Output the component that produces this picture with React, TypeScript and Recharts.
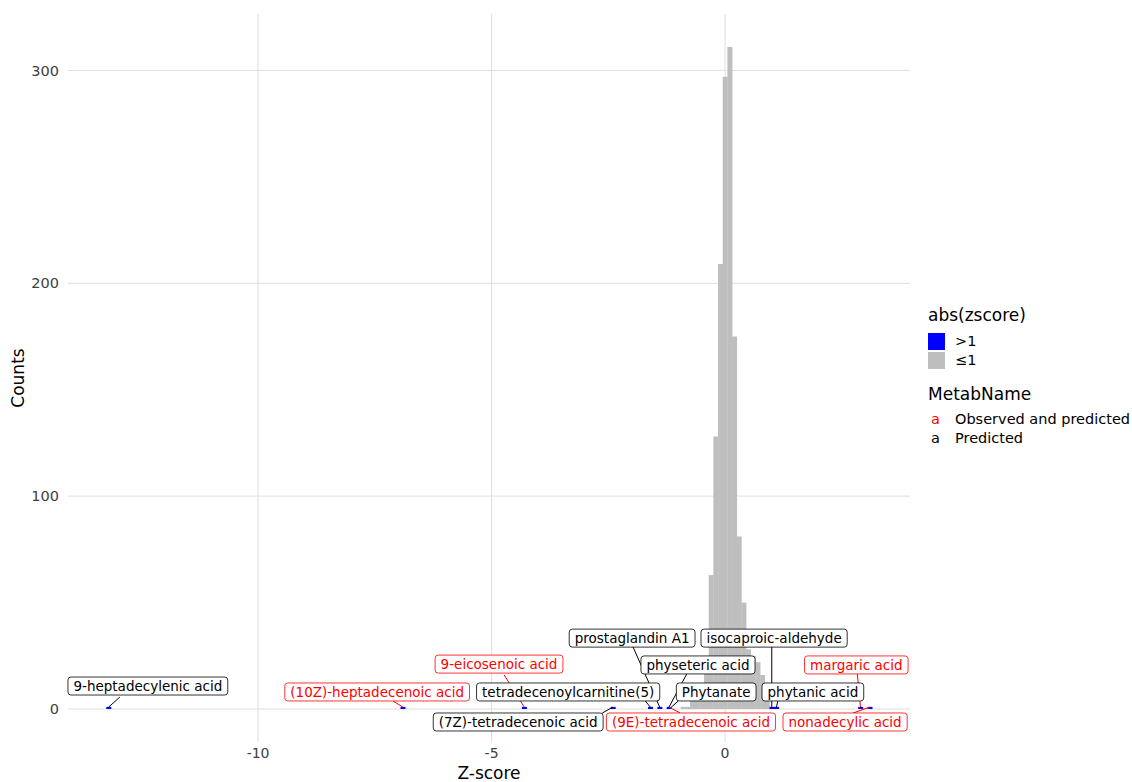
import React from "react";
import {
  BarChart,
  Bar,
  XAxis,
  YAxis,
  CartesianGrid,
  ReferenceLine,
  ReferenceDot,
} from "recharts";

// histogram bins (bin centres on the z-score axis), |z| <= 1
const grayZ = [-0.9, -0.8, -0.7, -0.6, -0.5, -0.4, -0.3, -0.2, -0.1, 0, 0.1, 0.2, 0.3, 0.4, 0.5, 0.6, 0.7, 0.8, 0.9];
const grayCounts = [1, 1, 4, 6, 8, 20, 63, 128, 209, 297, 311, 175, 81, 50, 28, 25, 22, 16, 7];

// bins with |z| > 1
const blueZ = [-13.2, -6.9, -4.3, -2.4, -1.6, -1.4, -1.2, 1.0, 1.1, 2.9, 3.1];
const blueCounts = [1, 1, 1, 1, 1, 1, 1, 1, 1, 1, 1];

// repel labels: name, z of the point, label centre (z, count), segment end (z, count)
const labelNames = [
  "9-heptadecylenic acid",
  "(10Z)-heptadecenoic acid",
  "9-eicosenoic acid",
  "tetradecenoylcarnitine(5)",
  "(7Z)-tetradecenoic acid",
  "prostaglandin A1",
  "physeteric acid",
  "Phytanate",
  "(9E)-tetradecenoic acid",
  "isocaproic-aldehyde",
  "phytanic acid",
  "margaric acid",
  "nonadecylic acid",
];
const labelPointZ = [-13.2, -6.9, -4.3, -1.6, -2.4, -1.4, -1.2, -1.15, -1.2, 1.0, 1.1, 2.9, 3.1];
const labelZ = [-12.36, -7.45, -4.84, -3.36, -4.43, -1.99, -0.58, -0.19, -0.73, 1.05, 1.88, 2.81, 2.57];
const labelCount = [10.8, 8.0, 21.1, 8.0, -6.1, 33.3, 20.7, 8.0, -6.1, 33.3, 8.0, 20.7, -6.1];
const segEndZ = [-12.96, -7.11, -4.73, -1.71, -2.63, -1.97, -0.81, -1.0, -0.96, 1.0, 1.13, 2.83, 2.74];
const segEndCount = [5.6, 3.8, 16, 3.8, -1.9, 29.1, 16.9, 3.8, -1.9, 29.1, 3.8, 16.9, -1.9];
const labelObserved = [false, true, true, false, false, false, false, false, true, false, false, true, true];

const FONT = '"DejaVu Sans", sans-serif';
const RED = "#FF0000";
const LABEL_SIZE = 13.5;

const rows = [...grayZ.map((z, i) => ({ z, gray: grayCounts[i], blue: 0 }))];
blueZ.forEach((z, i) => {
  const r = rows.find((d) => Math.abs(d.z - z) < 1e-6);
  if (r) r.blue = blueCounts[i];
  else rows.push({ z, gray: 0, blue: blueCounts[i] });
});
rows.sort((a, b) => a.z - b.z);

let ctx: CanvasRenderingContext2D | null = null;
function textWidth(t: string, size: number) {
  if (!ctx) ctx = document.createElement("canvas").getContext("2d");
  if (!ctx) return t.length * size * 0.6;
  ctx.font = `${size}px "DejaVu Sans"`;
  return ctx.measureText(t).width;
}

function LabelBox({ cx, cy, name, color }: any) {
  const w = textWidth(name, LABEL_SIZE) + 11;
  const h = 18;
  return (
    <g>
      <rect x={cx - w / 2} y={cy - h / 2} width={w} height={h} rx={3} ry={3} fill="#fff" stroke={color} strokeWidth={0.8} />
      <text x={cx} y={cy + 4.8} textAnchor="middle" fontSize={LABEL_SIZE} fill={color} fontFamily={FONT}>
        {name}
      </text>
    </g>
  );
}

export default function App() {
  return (
    <div style={{ position: "absolute", left: 0, top: 0, width: 1132, height: 782, background: "#fff", fontFamily: FONT }}>
      <BarChart
        width={1132}
        height={782}
        data={rows}
        margin={{ top: 14, right: 222, bottom: 0, left: 0 }}
        barCategoryGap={0}
        barGap={0}
        style={{ fontFamily: FONT }}
      >
        <CartesianGrid stroke="#dedede" strokeWidth={1} syncWithTicks />
        <XAxis
          type="number"
          dataKey="z"
          domain={[-14.07, 3.96]}
          allowDataOverflow
          ticks={[-10, -5, 0]}
          axisLine={false}
          tickLine={false}
          tickSize={0}
          tickMargin={6}
          height={40}
          tick={{ fontSize: 14, fill: "#404040" }}
          label={{ value: "Z-score", position: "insideBottom", offset: 3, fontSize: 17, fill: "#000" }}
        />
        <YAxis
          type="number"
          domain={[-15.5, 326.5]}
          allowDataOverflow
          ticks={[0, 100, 200, 300]}
          axisLine={false}
          tickLine={false}
          tickSize={0}
          tickMargin={9}
          width={68}
          tick={{ fontSize: 14.5, fill: "#404040" }}
          label={{ value: "Counts", angle: -90, position: "insideLeft", dx: 13, fontSize: 17, fill: "#000", style: { textAnchor: "middle" } }}
        />
        <Bar dataKey="gray" stackId="h" fill="#BEBEBE" isAnimationActive={false} />
        <Bar dataKey="blue" stackId="h" fill="#0000FF" isAnimationActive={false} />
        {labelNames.map((n, i) => (
          <ReferenceLine
            key={"s" + i}
            segment={[
              { x: labelPointZ[i], y: 0.9 },
              { x: segEndZ[i], y: segEndCount[i] },
            ]}
            stroke={labelObserved[i] ? RED : "#000"}
            strokeWidth={1}
          />
        ))}
        {labelNames.map((n, i) => (
          <ReferenceDot
            key={"l" + i}
            x={labelZ[i]}
            y={labelCount[i]}
            r={0}
            shape={(p: any) => <LabelBox cx={p.cx} cy={p.cy} name={n} color={labelObserved[i] ? RED : "#000"} />}
          />
        ))}
      </BarChart>

      <div style={{ position: "absolute", left: 928, top: 305, fontSize: 17, color: "#000", lineHeight: "20px" }}>abs(zscore)</div>
      <div style={{ position: "absolute", left: 928, top: 333, width: 17, height: 17, background: "#0000FF" }} />
      <div style={{ position: "absolute", left: 928, top: 352, width: 17, height: 17, background: "#BEBEBE" }} />
      <div style={{ position: "absolute", left: 955, top: 333, fontSize: 14.5, lineHeight: "17px" }}>&gt;1</div>
      <div style={{ position: "absolute", left: 955, top: 352, fontSize: 14.5, lineHeight: "17px" }}>≤1</div>
      <div style={{ position: "absolute", left: 928, top: 384, fontSize: 17, lineHeight: "20px" }}>MetabName</div>
      <div style={{ position: "absolute", left: 931, top: 411, fontSize: 14.5, lineHeight: "17px", color: RED }}>a</div>
      <div style={{ position: "absolute", left: 955, top: 411, fontSize: 14.5, lineHeight: "17px" }}>Observed and predicted</div>
      <div style={{ position: "absolute", left: 931, top: 430, fontSize: 14.5, lineHeight: "17px" }}>a</div>
      <div style={{ position: "absolute", left: 955, top: 430, fontSize: 14.5, lineHeight: "17px" }}>Predicted</div>
    </div>
  );
}
